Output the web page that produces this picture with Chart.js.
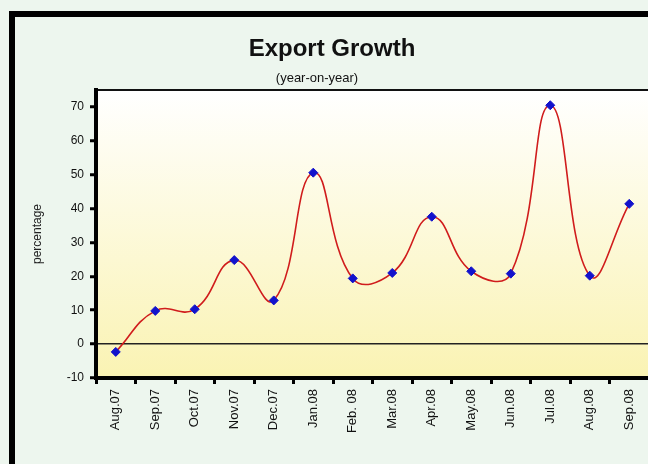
<!DOCTYPE html>
<html>
<head>
<meta charset="utf-8">
<script src="https://cdn.jsdelivr.net/npm/chart.js@4"></script>
<style>
  html,body{margin:0;padding:0;overflow:hidden;background:#edf6ee;}
  canvas{display:block;}
</style>
</head>
<body>
<canvas id="chart" width="660" height="464"></canvas>
<script>
/* Export Growth (year-on-year) */
const months = ['Aug.07','Sep.07','Oct.07','Nov.07','Dec.07','Jan.08','Feb. 08','Mar.08','Apr.08','May.08','Jun.08','Jul.08','Aug.08','Sep.08'];
const growth = [-2.3, 9.8, 10.3, 24.8, 12.9, 50.6, 19.4, 21, 37.6, 21.5, 20.8, 70.5, 20.2, 41.4];
const yTicks = [-10, 0, 10, 20, 30, 40, 50, 60, 70];

const FONT = "'Liberation Sans', Arial, sans-serif";

const frame = {
  id:'frame',
  beforeDraw(c){
    const g = c.ctx, a = c.chartArea;
    g.save();
    g.fillStyle = '#edf6ee';
    g.fillRect(0,0,c.width,c.height);
    // outer black frame (left + top, rest is cropped)
    g.fillStyle = '#000';
    g.fillRect(9,11,6,c.height);
    g.fillRect(9,11,c.width,6);
    // plot background
    const gr = g.createLinearGradient(0,a.top,0,a.bottom);
    gr.addColorStop(0,'#ffffff');
    gr.addColorStop(1,'#faf3b3');
    g.fillStyle = gr;
    g.fillRect(a.left,a.top,a.right-a.left,a.bottom-a.top);
    g.strokeStyle = '#111';
    g.lineWidth = 2;
    g.beginPath(); g.moveTo(a.left,a.top); g.lineTo(c.width,a.top); g.stroke();
    // titles
    g.fillStyle = '#111';
    g.textAlign = 'center';
    g.textBaseline = 'alphabetic';
    g.font = 'bold 24px ' + FONT;
    g.fillText('Export Growth', 332, 56);
    g.font = '13px ' + FONT;
    g.fillText('(year-on-year)', 317, 82);
    g.restore();
  }
};

new Chart(document.getElementById('chart'), {
  type:'line',
  data:{
    labels: months,
    datasets:[{
      data: growth,
      borderColor:'#d01c1c',
      borderWidth:1.6,
      tension:0.45,
      pointStyle:'rectRot',
      pointRadius:4.5,
      pointBackgroundColor:'#1212cc',
      pointBorderColor:'#1212cc',
      pointBorderWidth:1
    }]
  },
  options:{
    responsive:false,
    animation:false,
    devicePixelRatio:1,
    layout:{padding:{top:90,left:26,right:11,bottom:0}},
    plugins:{legend:{display:false},tooltip:{enabled:false}},
    scales:{
      x:{
        offset:true,
        grid:{offset:true,drawOnChartArea:false,tickLength:6,tickWidth:3,tickColor:'#000'},
        border:{display:true,color:'#000',width:4},
        ticks:{minRotation:90,maxRotation:90,padding:5,color:'#111',font:{family:FONT,size:13}},
        afterFit(s){ s.height = 86; }
      },
      y:{
        min:-10, max:75,
        afterBuildTicks(s){ s.ticks = yTicks.map(v=>({value:v})); },
        grid:{
          color:c=> c.tick && c.tick.value===0 ? '#222' : 'rgba(0,0,0,0)',
          lineWidth:1.5,
          tickLength:6, tickWidth:3, tickColor:'#000'
        },
        border:{display:true,color:'#000',width:4},
        ticks:{padding:6,color:'#111',font:{family:FONT,size:12}},
        title:{display:true,text:'percentage',color:'#222',padding:{top:4,bottom:0},font:{family:FONT,size:12}},
        afterFit(s){ s.width = 70; }
      }
    }
  },
  plugins:[frame]
});
</script>
</body>
</html>
